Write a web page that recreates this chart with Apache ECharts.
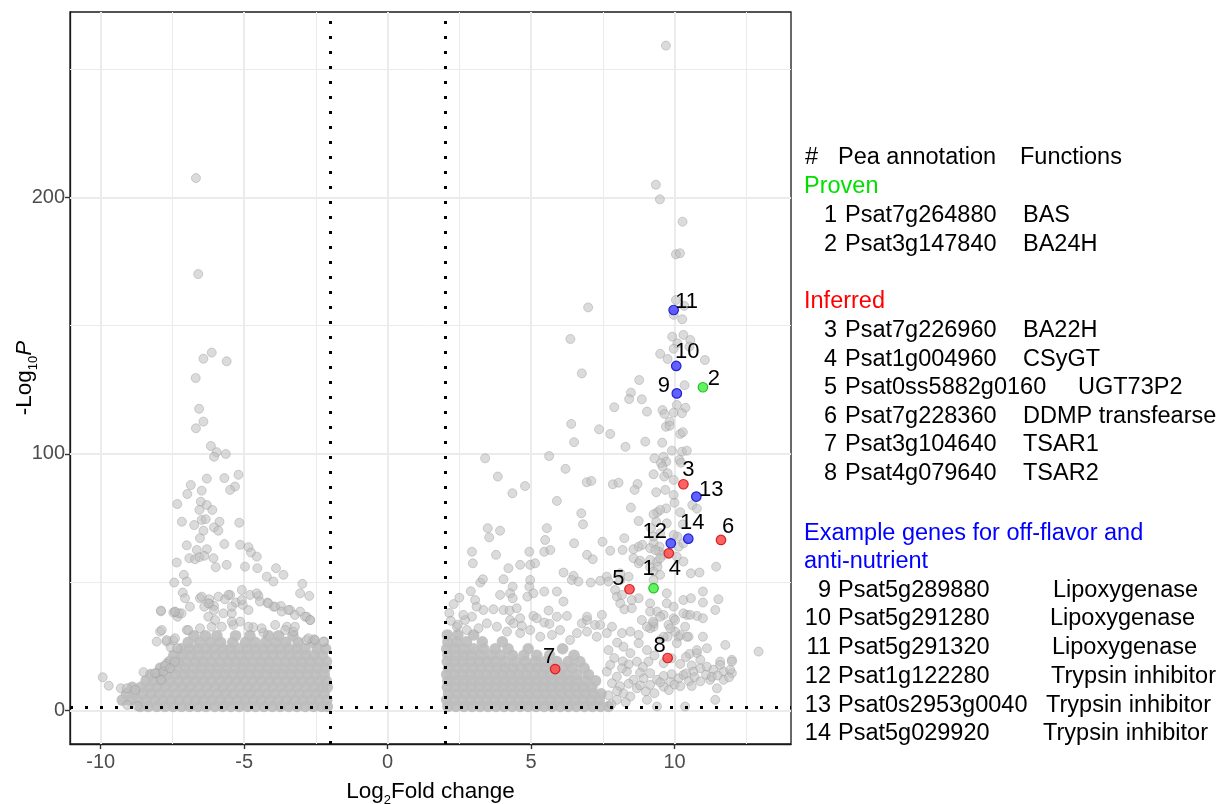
<!DOCTYPE html>
<html>
<head>
<meta charset="utf-8">
<script src="https://cdn.jsdelivr.net/npm/echarts@6/dist/echarts.min.js"></script>
<style>
  html, body { margin: 0; padding: 0; background: #fff; }
  #volcano { width: 1222px; height: 804px; }
</style>
</head>
<body>
<div id="volcano"></div>
<script>
var FONT = '"Liberation Sans", Arial, sans-serif';

// axis ticks (ggplot style: major labelled, minor only as grid lines)
var xMajor = [-10, -5, 0, 5, 10];
var xMinor = [-7.5, -2.5, 2.5, 7.5, 12.5];
var yMajor = [0, 100, 200];
var yMinor = [50, 150, 250];

// threshold lines: |log2FC| = 2, p = 0.05
var fcCut = [-2, 2];
var pCut = 1.3;

// down-regulated genes, scattered part (log2FC, -log10 P)
var downSparse = [
  [-6.68,207.5],[-6.6,170.1],[-6.13,139.5],[-6.42,137.1],[-5.61,136.1],[-6.69,129.6],[-6.57,117.6],[-6.42,112.6],
  [-6.68,110],[-6.16,103.1],[-5.96,100.7],[-6.05,98.9],[-5.64,100],[-6.3,90.4],[-6.86,87.9],[-6.98,84.4],
  [-6.48,85.7],[-5.69,90.6],[-5.2,91.9],[-5.32,87.3],[-5.49,86],[-7.33,80.5],[-6.51,81.4],[-6.3,80.1],
  [-6.56,78.2],[-6.11,78.2],[-7.17,73.6],[-6.74,72.3],[-6.48,74.3],[-6.34,74.6],[-5.86,73.6],[-6.05,71.4],
  [-5.9,70.1],[-5.17,73.2],[-6.42,70.1],[-6.54,67.2],[-7.0,64.4],[-6.65,62.6],[-6.3,62.9],[-5.69,64.9],
  [-7.35,57.7],[-6.91,59.4],[-6.71,59],[-6.56,59.8],[-6.39,60.3],[-6.07,59.4],[-5.99,55.9],[-5.61,56.8],
  [-5.14,64.6],[-4.85,63.7],[-4.76,61.6],[-4.56,60],[-4.97,56.1],[-4.54,55.5],[-3.89,55.5],[-3.63,52.9],
  [-4.21,52.2],[-3.98,50.3],[-2.97,49.4],[-3.05,45.7],[-2.73,44.7],[-7.44,49.9],[-7.1,52.9],[-7.0,50.3],
  [-7.14,46],[-7.06,43.8],[-6.54,43.8],[-6.22,43.4],[-6.21,41.6],[-6.05,40.8],[-5.49,45.1],[-5.67,43.4],
  [-5.29,42.1],[-5.08,47],[-4.79,45.1],[-4.5,44.7],[-5.05,41.2],[-4.19,42.1],[-3.98,40.5],[-3.72,40.8],
  [-3.4,39.2],[-3.05,38.6],[-2.82,36.6],[-2.7,35.3],[-7.9,38.7],[-7.41,38.4],[-7.32,36.6],[-6.89,40.5],
  [-6.39,40.5],[-6.05,39.2],[-5.72,37.9],[-5.43,37.9],[-5.14,34.7],[-7.93,30.8],[-7.7,26.9],[-7.47,27.3],
  [-7.56,24.7],[-7.33,24.3],[-7.0,31.4],[-6.54,32.1],[-6.13,32.7],[-5.38,33.4],[-4.68,32.5],[-4.33,30.4],
  [-3.51,32.7],[-3.28,30.8],[-2.82,27.5],[-2.56,27.8],[-2.21,26.9],[-7.72,18.2],[-8.51,15],[-8.05,14.6],
  [-9.93,13],[-9.72,9.7],[-9.3,8.7],[-9.09,8.7],[-8.8,8.1],[-9.07,2.2],[-8.72,1.8],[-8.11,14.6],
  [-7.82,15.2],[-7.76,17.4],[-7.9,12],[-7.58,16.5],[-7.41,19.1],[-8.05,26.9],[-7.87,31.4],[-7.7,27.5],
  [-7.41,28.2],[-7.9,39],[-7.47,38.2],[-7.27,37.9],
  [-6.48,44.4],[-6.25,41.8],[-5.9,44.4],[-5.55,45.1],[-5.43,40.5],[-5.08,43.1],[-4.85,39.2],[-4.56,45.7],
  [-4.45,42.5],[-4.16,41.8],[-3.92,40.5],[-3.69,38.6],[-3.46,39.2],[-3.23,37.3],[-2.88,36.6],[-2.7,35.3],
  [-7.18,37.9],[-7.41,38.6],[-6.95,31.4],[-6.25,36.6],[-6.01,35.3],[-5.78,32.7],[-5.43,34.7],[-4.85,32.7],
  [-4.39,32.1],[-3.92,33.4],[-3.57,31.4],[-3.23,32.7],[-2.76,28.2],[-2.53,27.5],[-2.24,26.9]
];

// down-regulated genes, saturated cloud: rows of [-log10 P, [log2FC ...]]
var downDenseRows = [
  [1.6, [-8.62,-8.35,-8.04,-7.76,-7.47,-7.18,-6.9,-6.61,-6.33,-6.02,-5.75,-5.46,-5.17,-4.88,-4.6,-4.31,-4.02,-3.74,-3.45,-3.16,-2.87,-2.58,-2.3,-2.1]],
  [4.1, [-9.25,-8.98,-8.7,-8.41,-8.12,-7.84,-7.55,-7.26,-6.97,-6.69,-6.4,-6.11,-5.82,-5.54,-5.25,-4.96,-4.67,-4.39,-4.1,-3.81,-3.52,-3.24,-2.95,-2.66,-2.38,-2.12]],
  [6.6, [-9.1,-8.82,-8.53,-8.25,-7.96,-7.67,-7.39,-7.1,-6.81,-6.52,-6.24,-5.95,-5.66,-5.37,-5.09,-4.8,-4.51,-4.22,-3.94,-3.65,-3.36,-3.07,-2.79,-2.5,-2.21]],
  [9.1, [-8.9,-8.6,-8.31,-8.03,-7.74,-7.45,-7.16,-6.88,-6.59,-6.3,-6.01,-5.73,-5.44,-5.15,-4.86,-4.58,-4.29,-4.0,-3.71,-3.43,-3.14,-2.85,-2.56,-2.28,-2.1]],
  [11.6, [-8.42,-8.15,-7.86,-7.57,-7.29,-7.0,-6.71,-6.42,-6.14,-5.85,-5.56,-5.27,-4.99,-4.7,-4.41,-4.12,-3.84,-3.55,-3.26,-2.97,-2.69,-2.4,-2.14]],
  [14.1, [-8.25,-7.96,-7.68,-7.39,-7.1,-6.81,-6.53,-6.24,-5.95,-5.66,-5.38,-5.09,-4.8,-4.51,-4.23,-3.94,-3.65,-3.36,-3.08,-2.79,-2.5,-2.21]],
  [16.6, [-7.92,-7.63,-7.35,-7.06,-6.77,-6.48,-6.2,-5.91,-5.62,-5.33,-5.05,-4.76,-4.47,-4.18,-3.9,-3.61,-3.32,-3.03,-2.75,-2.46,-2.17]],
  [19.1, [-7.6,-7.3,-7.01,-6.72,-6.44,-6.15,-5.86,-5.57,-5.29,-5.0,-4.71,-4.42,-4.14,-3.85,-3.56,-3.27,-2.99,-2.7,-2.41,-2.13]],
  [21.6, [-7.45,-7.16,-6.87,-6.59,-6.3,-6.01,-5.72,-5.44,-5.15,-4.86,-4.57,-4.29,-4.0,-3.71,-3.42,-3.14,-2.85,-2.56,-2.27]],
  [24.1, [-7.2,-6.9,-6.62,-6.33,-6.04,-5.75,-5.47,-5.18,-4.89,-4.6,-4.32,-4.03,-3.74,-3.45,-3.17,-2.88,-2.45,-2.16]],
  [26.6, [-6.95,-6.55,-6.18,-5.82,-5.4,-4.95,-4.62,-4.25,-3.9,-3.55,-3.12,-2.6]],
  [29.2, [-6.75,-6.35,-5.95,-5.3,-4.8,-4.15,-3.8,-3.3]]
];

// up-regulated genes, scattered part
var upSparse = [
  [9.70,259.1],[9.35,204.9],[9.49,199.2],[10.28,190.5],[10.05,177.8],[10.19,178.2],[6.99,157.1],[6.37,144.8],
  [10.05,160],[10.34,157.7],[9.97,154.2],[10.27,152.5],[9.92,145.7],[10.31,146.4],[10.55,144.4],[10.1,143.1],
  [10.52,141.8],[9.97,141],[9.5,139],[9.76,137],[11.06,136.6],[10.35,126.8],[6.77,131.4],[8.77,128.8],
  [8.48,123.9],[8.42,121.4],[8.86,121.3],[7.90,118.2],[9.04,116.5],[9.58,117.1],[9.65,115.6],[10.08,119.1],
  [10.38,118],[9.97,116.1],[10.26,115.9],[9.83,112.6],[9.70,110.6],[9.83,111],[10.2,107.8],[10.29,108.5],
  [6.40,111.7],[7.37,109.6],[7.76,107.8],[6.50,104.6],[8.29,102.8],[8.98,104.8],[9.57,104.4],[9.91,101.3],
  [10.26,100.9],[10.43,101.3],[3.40,98.3],[5.63,99.2],[9.30,98.3],[9.62,98.9],[9.71,97],[9.53,96.4],
  [9.58,95.1],[10.17,97.7],[10.22,96.6],[6.2,94.2],[3.84,91.2],[4.79,87.5],[4.35,84.7],[5.90,81.7],
  [6.94,89],[7.10,89.5],[7.85,88.2],[8.05,88.8],[8.71,88.3],[8.61,86],[9.27,92.1],[9.76,92.5],
  [9.64,91.2],[9.97,89.9],[9.36,85.1],[9.68,86],[9.97,84],[10.0,81],[8.48,79.1],[9.40,77.3],
  [9.71,78.8],[9.50,78.2],[10.2,77.3],[10.62,80.1],[10.78,78.7],[6.75,76.9],[6.81,72.6],[8.75,73.9],
  [9.73,73],[10.29,72.6],[3.49,71.1],[3.54,67.5],[3.92,70.1],[5.55,71.1],[8.25,67.2],[8.75,63.9],
  [8.88,64.6],[9.27,65.2],[9.48,63.9],[9.46,61.9],[10.1,67.8],[10.15,63.9],[10.31,65.2],[11.45,56.1],
  [9.27,76.5],[9.36,73.6],[9.18,71.1],[9.5,69.1],[9.27,67.8],[9.97,68.4],[9.15,63.3],[9.33,62.6],
  [9.62,60.7],[9.39,58],[10.08,60],[8.57,59.4],[8.75,57.4],[9.15,55.9],[9.27,54.2],[8.11,53.5],
  [8.4,52.2],[7.64,52.2],[2.94,61.9],[2.97,57.4],[3.78,60.7],[4.21,55.5],[4.62,56.8],[4.94,61.9],
  [4.97,56.8],[5.14,57.4],[5.46,61.9],[5.67,62.6],[6.5,65.2],[6.95,60.7],[7.15,59],[7.49,65.8],
  [7.76,62.3],[8.19,62.6],[8.57,62.9],[8.8,58.4],[9.15,58.7],[9.5,59.4],[9.41,56.1],[9.5,52.9],
  [9.27,50.9],[9.73,45.7],[10.31,58.1],[10.57,53.5],[10.87,53.8],[11.53,43.4],[10.99,46.4],[10.99,42.1],
  [11.42,39.2],[10.31,43.1],[10.57,43.8],[10.43,37.3],[10.78,36.9],[10.37,32.7],[10.14,28.8],[10.49,28.8],
  [10.99,28.8],[11.13,24.3],[10.78,22.4],[10.52,22.1],[11.59,19.1],[12.0,19.8],[12.0,14.6],[11.77,25.6],
  [12.93,23],[5.49,66.5],[6.13,53.8],[6.48,52.5],[3.23,49.9],[3.32,51.2],[4.04,51.2],[4.36,48.3],
  [4.27,45.7],[3.92,45.1],[4.36,43.8],[3.05,43.1],[3.34,39.2],[3.69,39.5],[4.04,39.2],[4.25,39],
  [4.5,39.9],[4.27,35.3],[4.62,36],[4.39,34],[4.68,33],[2.94,36.6],[2.7,35.3],[2.64,37.3],
  [4.97,50.9],[4.94,48.3],[5.08,45.7],[4.87,44.4],[5.46,46.4],[5.9,46.4],[6.13,42.5],[6.42,50.9],
  [6.65,50.3],[7.08,49.9],[7.41,50.6],[7.7,50.3],[7.93,47],[5.08,36.9],[5.61,39],[5.9,36.6],
  [5.2,36],[5.46,34.3],[5.64,33.8],[6.25,36.9],[6.77,34],[6.95,35.3],[7.23,33.4],[7.47,37.3],
  [7.82,32.7],[7.99,44.4],[8.11,41.8],[8.25,39.5],[8.51,39.9],[8.75,43.8],[8.86,35.3],[9.15,41.8],
  [9.39,38.6],[9.62,37.3],[9.27,32.7],[9.97,36],[10.2,29.5],[9.76,28.8],[9.5,27.5],[9.15,32.1],
  [8.11,50.9],[8.17,45.1],[8.51,43.1],[9.15,38.6],[9.27,34],[9.5,36.6],[9.79,33.4],[10.02,30.8],
  [9.97,40.5],[9.73,41.8],[2.41,32.7],[2.76,31.4],[3.17,32.1],[3.46,34],[3.81,32.7],[4.16,30.8],
  [4.62,30.2],[4.97,31.4],[5.32,28.8],[5.73,29.5],[6.01,31.4],[6.36,27.5],[6.6,30.2],[6.95,30.8],
  [7.29,28.8],[7.64,30.2],[2.15,38],[2.3,41.5],[2.5,44],[2.2,35],[2.45,33.5],[2.9,46.5],[3.1,40.5],
  [6.95,36.6],[7.41,33.4],[8.17,30.2],[8.46,30.8],[8.75,29.5],[9.04,32.7],[9.25,34.7],[10.02,35.3],
  [10.31,37.9],[10.55,37.3],[10.99,36],[10.78,23.6],[10.43,28.8],[10.08,26.3],[10.9,19.8],[8.46,22.4],
  [8.22,24.9],[8.75,26.3],[9.04,23.6],[9.85,32.1],[9.62,28.8],[9.09,19.1],[9.62,18.5],[8.69,19.1],
  [7.9,20.5],[8.2,19.2],[7.7,23.6],[8.0,26.5],[8.4,18],[8.9,17],[9.3,21.5],[9.9,20.4],
  [10.2,18.2],[10.4,20.9],[10.6,17.6],
  [7.99,13.2],[8.34,15.2],[8.57,12],[8.92,12.6],[9.15,14.6],[9.39,12],[9.62,13.5],[9.85,11.3],
  [10.14,12.6],[10.31,13.9],[10.66,15.2],[10.9,16.5],[11.13,17.1],[11.36,15.9],[11.59,17.8],[11.71,15.2],
  [11.94,15.9],[12.0,19.1],[11.24,12],[11.48,8.7],[11.71,12],[8.69,8.7],[9.15,10],[9.62,9.3],
  [8.22,6.8],[8.46,5.5],[7.99,4.2],[9.04,4.2],[11.42,4.2],[10.37,1.6],[9.39,1.6],[7.82,10.7],
  [7.64,15.2],[7.76,17.8],[8.17,16.5],[8.1,9.5],[8.4,10.5],[8.8,9.8],[9.0,7.5],[9.3,6.8],
  [9.5,11],[9.8,8],[10.0,10.2],[10.2,9.5],[10.5,11.5],[10.7,13],[10.9,11.4],[11.1,14],
  [11.3,13.2],[11.5,13.7],[10.4,14.5],[9.9,14.2],[8.8,14.8],[8.0,7.6],[7.7,6],[7.8,2.5],
  [8.3,3.2],[10.6,9.6],[11.9,13]
];

// up-regulated genes, saturated cloud: rows of [-log10 P, [log2FC ...]]
var upDenseRows = [
  [1.6, [2.1,2.38,2.66,2.94,3.22,3.5,3.78,4.06,4.34,4.62,4.9,5.18,5.46,5.74,6.02,6.3,6.58,6.86,7.14,7.42,7.7]],
  [4.1, [2.06,2.34,2.62,2.9,3.18,3.46,3.74,4.02,4.3,4.58,4.86,5.14,5.42,5.7,5.98,6.26,6.54,6.82,7.1,7.38]],
  [6.6, [2.12,2.4,2.68,2.96,3.24,3.52,3.8,4.08,4.36,4.64,4.92,5.2,5.48,5.76,6.04,6.32,6.6,6.88,7.16,7.44]],
  [9.1, [2.08,2.36,2.64,2.92,3.2,3.48,3.76,4.04,4.32,4.6,4.88,5.16,5.44,5.72,6.0,6.28,6.56,6.84,7.12]],
  [11.6, [2.1,2.38,2.66,2.94,3.22,3.5,3.78,4.06,4.34,4.62,4.9,5.18,5.46,5.74,6.02,6.3,6.58,6.9,7.25]],
  [14.1, [2.06,2.34,2.62,2.9,3.18,3.46,3.74,4.02,4.3,4.58,4.86,5.14,5.42,5.7,5.98,6.26,6.6,7.0]],
  [16.6, [2.12,2.4,2.68,2.96,3.24,3.52,3.8,4.08,4.36,4.64,4.92,5.2,5.48,5.76,6.1,6.45,6.85]],
  [19.1, [2.08,2.36,2.64,2.92,3.2,3.48,3.76,4.1,4.45,4.8,5.15,5.5,5.9,6.3,6.7]],
  [21.6, [2.1,2.38,2.66,2.94,3.25,3.6,3.95,4.35,4.75,5.2,5.65,6.5]],
  [24.1, [2.06,2.35,2.65,3.0,3.35,3.75,4.2,4.9,6.1]],
  [26.8, [2.1,2.4,2.75,3.3,4.0]],
  [29.5, [2.08,2.45,3.0]]
];

// highlighted genes: [log2FC, -log10 P, number]
var provenGenes = [[9.27, 47.7, '1'], [10.99, 126.0, '2']];
var inferredGenes = [[10.31, 88.2, '3'], [9.80, 61.3, '4'], [8.43, 47.3, '5'], [11.62, 66.5, '6'],
                     [5.84, 16.2, '7'], [9.76, 20.5, '8']];
var exampleGenes = [[10.08, 123.6, '9'], [10.06, 134.3, '10'], [9.97, 156.1, '11'], [9.87, 65.2, '12'],
                    [10.76, 83.4, '13'], [10.48, 67.0, '14']];

// annotation table text
var tableHeader = ['#', 'Pea annotation', 'Functions'];
var provenRows = [['1', 'Psat7g264880', 'BAS'], ['2', 'Psat3g147840', 'BA24H']];
var inferredRows = [['3', 'Psat7g226960', 'BA22H'], ['4', 'Psat1g004960', 'CSyGT'],
                    ['5', 'Psat0ss5882g0160', 'UGT73P2'], ['6', 'Psat7g228360', 'DDMP transfearse'],
                    ['7', 'Psat3g104640', 'TSAR1'], ['8', 'Psat4g079640', 'TSAR2']];
var exampleRows = [['9', 'Psat5g289880', 'Lipoxygenase'], ['10', 'Psat5g291280', 'Lipoxygenase'],
                   ['11', 'Psat5g291320', 'Lipoxygenase'], ['12', 'Psat1g122280', 'Trypsin inhibitor'],
                   ['13', 'Psat0s2953g0040', 'Trypsin inhibitor'], ['14', 'Psat5g029920', 'Trypsin inhibitor']];

// --- styling / layout below ---
var labelOffset = {
  '1': [-5, -19], '2': [11, -8], '3': [5, -14], '4': [6, 16], '5': [-11, -10], '6': [7, -13], '7': [-6, -12],
  '8': [-8, -12], '9': [-13, -7], '10': [11, -14], '11': [13, -8], '12': [-16, -11], '13': [15, -7], '14': [4, -16]
};

function flattenRows(rows) {
  var out = [];
  rows.forEach(function (r) {
    r[1].forEach(function (x) { out.push([x, r[0]]); });
  });
  return out;
}

var sparsePoints = downSparse.concat(upSparse);
var densePoints = flattenRows(downDenseRows).concat(flattenRows(upDenseRows));

function gridLine(axis, v, w) {
  var d = { lineStyle: { width: w } };
  d[axis] = v;
  return d;
}

var gridLines = []
  .concat(xMinor.map(function (v) { return gridLine('xAxis', v, 1); }))
  .concat(yMinor.map(function (v) { return gridLine('yAxis', v, 1); }))
  .concat(xMajor.map(function (v) { return gridLine('xAxis', v, 2); }))
  .concat(yMajor.map(function (v) { return gridLine('yAxis', v, 2); }));

function highlightSeries(name, data, fill, stroke) {
  return {
    name: name,
    type: 'scatter',
    z: 6,
    symbolSize: 9.5,
    data: data,
    itemStyle: { color: fill, borderColor: stroke, borderWidth: 1.2, opacity: 1 },
    label: {
      show: true,
      position: 'inside',
      formatter: function (p) { return p.value[2]; },
      fontSize: 22,
      fontFamily: FONT,
      color: '#000'
    },
    labelLayout: function (p) {
      var id = data[p.dataIndex][2];
      var o = labelOffset[id];
      return { dx: o[0], dy: o[1] };
    }
  };
}

// right-hand table
var TX = { fontSize: 23.5, fontFamily: FONT };
function txt(x, y, text, fill, align) {
  return {
    type: 'text', x: x, y: y, silent: true,
    style: { text: text, fill: fill || '#000', fontSize: TX.fontSize, fontFamily: TX.fontFamily,
             align: align || 'left', verticalAlign: 'middle' }
  };
}

var graphics = [];
graphics.push(txt(805, 158, tableHeader[0]), txt(838, 158, tableHeader[1]), txt(1020, 158, tableHeader[2]));
graphics.push(txt(804, 187, 'Proven', '#00e000'));
var provenY = [215.5, 244.5];
provenRows.forEach(function (r, i) {
  graphics.push(txt(837, provenY[i], r[0], null, 'right'), txt(845, provenY[i], r[1]), txt(1023, provenY[i], r[2]));
});
graphics.push(txt(804, 302, 'Inferred', '#ff0000'));
var inferredY = [331, 359.5, 388, 416.5, 445, 474];
var inferredFx = [1023, 1023, 1078, 1023, 1023, 1023];
inferredRows.forEach(function (r, i) {
  graphics.push(txt(837, inferredY[i], r[0], null, 'right'), txt(845, inferredY[i], r[1]), txt(inferredFx[i], inferredY[i], r[2]));
});
graphics.push(txt(804, 533.5, 'Example genes for off-flavor and', '#0000ff'));
graphics.push(txt(804, 562, 'anti-nutrient', '#0000ff'));
var exampleY = [590.5, 619, 648, 677, 705.5, 734];
var exampleFx = [1053, 1050, 1052, 1051, 1046, 1043];
exampleRows.forEach(function (r, i) {
  graphics.push(txt(831, exampleY[i], r[0], null, 'right'), txt(838, exampleY[i], r[1]), txt(exampleFx[i], exampleY[i], r[2]));
});

var option = {
  animation: false,
  backgroundColor: '#fff',
  grid: {
    left: 70, top: 12, right: 431, bottom: 60,
    containLabel: false, outerBoundsMode: 'none',
    show: true, borderColor: '#1a1a1a', borderWidth: 1.3, backgroundColor: 'transparent'
  },
  xAxis: {
    type: 'value', min: -11.07, max: 14.06,
    axisLine: { show: true, onZero: false, lineStyle: { color: '#1a1a1a', width: 1.3 } },
    splitLine: { show: false },
    axisTick: { show: true, customValues: xMajor, length: 5, lineStyle: { color: '#333', width: 1.4 } },
    axisLabel: { customValues: xMajor, fontSize: 20, color: '#4d4d4d', fontFamily: FONT, margin: 8 },
    name: '{a|Log}{s|2}{a|Fold change}',
    nameLocation: 'middle',
    nameGap: 33,
    nameMoveOverlap: false,
    nameTextStyle: {
      rich: {
        a: { fontSize: 22.5, fontFamily: FONT, color: '#000', lineHeight: 30, verticalAlign: 'middle' },
        s: { fontSize: 13, fontFamily: FONT, color: '#000', lineHeight: 30, verticalAlign: 'bottom' }
      }
    }
  },
  yAxis: {
    type: 'value', min: -13, max: 272.2,
    axisLine: { show: true, onZero: false, lineStyle: { color: '#1a1a1a', width: 1.3 } },
    splitLine: { show: false },
    axisTick: { show: true, customValues: yMajor, length: 5, lineStyle: { color: '#333', width: 1.4 } },
    axisLabel: { customValues: yMajor, fontSize: 20, color: '#4d4d4d', fontFamily: FONT, margin: 5 },
    name: '{a|-Log}{s|10}{i|P}',
    nameLocation: 'middle',
    nameRotate: 90,
    nameGap: 30,
    nameMoveOverlap: false,
    nameTextStyle: {
      rich: {
        a: { fontSize: 22.5, fontFamily: FONT, color: '#000', lineHeight: 30, verticalAlign: 'middle' },
        s: { fontSize: 13, fontFamily: FONT, color: '#000', lineHeight: 30, verticalAlign: 'bottom' },
        i: { fontSize: 22.5, fontFamily: FONT, fontStyle: 'italic', color: '#000', lineHeight: 30, verticalAlign: 'middle' }
      }
    }
  },
  graphic: graphics,
  series: [
    {
      name: 'grid',
      type: 'scatter',
      z: 1,
      data: [],
      silent: true,
      markLine: {
        z: 1,
        silent: true, symbol: ['none', 'none'], label: { show: false },
        lineStyle: { color: '#ebebeb', type: 'solid' },
        data: gridLines
      }
    },
    {
      name: 'genes (dense)',
      type: 'scatter',
      z: 2,
      symbolSize: 11.5,
      data: densePoints,
      silent: true,
      itemStyle: { color: '#bdbdbd', opacity: 0.9 }
    },
    {
      name: 'genes',
      type: 'scatter',
      z: 3,
      symbolSize: 9,
      data: sparsePoints,
      itemStyle: { color: '#bdbdbd', borderColor: '#9a9a9a', borderWidth: 0.8, opacity: 0.55 }
    },
    {
      name: 'cutoffs',
      type: 'scatter',
      z: 4,
      data: [],
      silent: true,
      markLine: {
        z: 4,
        silent: true, symbol: ['none', 'none'], label: { show: false },
        lineStyle: { color: '#000', type: [3, 12], width: 3 },
        data: fcCut.map(function (v) { return { xAxis: v }; }).concat([{ yAxis: pCut }])
      }
    },
    highlightSeries('Proven', provenGenes, 'rgba(70,240,70,0.85)', '#26c026'),
    highlightSeries('Inferred', inferredGenes, 'rgba(255,70,70,0.85)', '#d42020'),
    highlightSeries('Example', exampleGenes, 'rgba(70,70,255,0.85)', '#2020d0')
  ]
};

var chart = echarts.init(document.getElementById('volcano'));
chart.setOption(option);
</script>
</body>
</html>
